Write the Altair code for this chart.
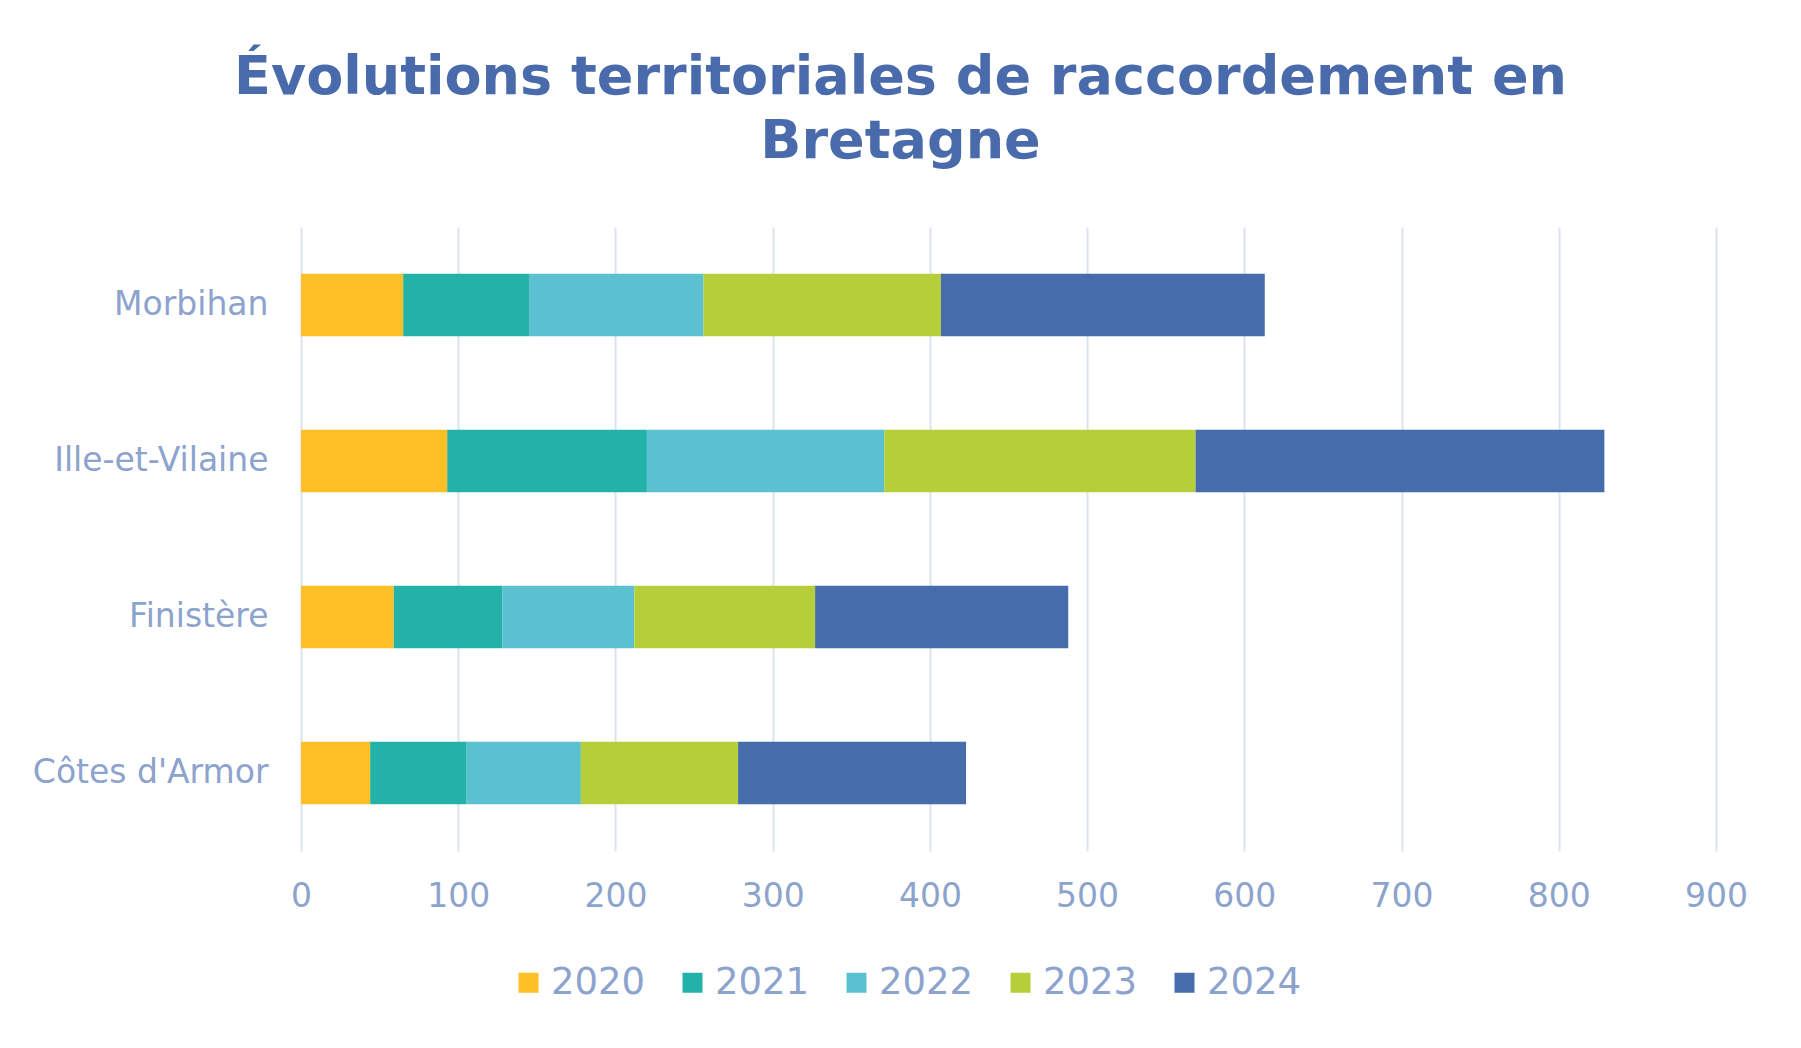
import altair as alt
import pandas as pd

departements = ["Morbihan", "Ille-et-Vilaine", "Finistère", "Côtes d'Armor"]
years = ["2020", "2021", "2022", "2023", "2024"]
v2020 = [65, 93, 59, 44]
v2021 = [80, 127, 69, 61]
v2022 = [111, 151, 84, 73]
v2023 = [151, 198, 115, 100]
v2024 = [206, 260, 161, 145]
colors = ["#FDBF26", "#22B2A7", "#5BC1D1", "#B5CE3A", "#466CAC"]
x_ticks = [0, 100, 200, 300, 400, 500, 600, 700, 800, 900]

series = [v2020, v2021, v2022, v2023, v2024]
rows = []
for yi, (yr, vals) in enumerate(zip(years, series)):
    for d, v in zip(departements, vals):
        rows.append({"departement": d, "annee": yr, "ordre": yi, "valeur": v})
df = pd.DataFrame(rows)

label_color = "#8CA3CE"
grid_color = "#DCE4F0"

chart = alt.Chart(df).mark_bar().encode(
    x=alt.X("valeur:Q", stack="zero",
            scale=alt.Scale(domain=[0, 900], nice=False),
            axis=alt.Axis(values=x_ticks, title=None, grid=True, gridColor=grid_color,
                          gridWidth=2, domain=False, ticks=False,
                          labelFlush=False, labelOverlap=False,
                          labelFontSize=33, labelColor=label_color, labelPadding=29,
                          labelFont="DejaVu Sans")),
    y=alt.Y("departement:N", sort=departements,
            scale=alt.Scale(paddingInner=0.6, paddingOuter=0.3),
            axis=alt.Axis(title=None, domain=False, ticks=False, grid=False,
                          labelLimit=0,
                          labelFontSize=33, labelColor=label_color, labelPadding=33,
                          labelFont="DejaVu Sans")),
    color=alt.Color("annee:N", sort=years,
                    scale=alt.Scale(domain=years, range=colors),
                    legend=alt.Legend(title=None, orient="none", direction="horizontal",
                                      columns=5, legendX=209, legendY=737,
                                      symbolType="square", symbolSize=400,
                                      symbolStrokeWidth=0, labelFontSize=37,
                                      labelColor=label_color, labelOffset=4,
                                      columnPadding=28, padding=0,
                                      labelFont="DejaVu Sans")),
    order=alt.Order("ordre:Q", sort="ascending"),
).properties(
    width=1415,
    height=624,
    title=alt.TitleParams(
        text=["Évolutions territoriales de raccordement en", "Bretagne"],
        anchor="middle", frame="group", dx=-108, fontSize=54,
        font="DejaVu Sans", fontWeight="bold", color="#4A6BAB",
        lineHeight=64, offset=58),
    autosize=alt.AutoSizeParams(type="none"),
    padding={"left": 293, "top": 219, "right": 60, "bottom": 170},
    background="white",
).configure_view(stroke=None)

chart.save("out.html", embed_options={"renderer": "svg", "actions": False})
